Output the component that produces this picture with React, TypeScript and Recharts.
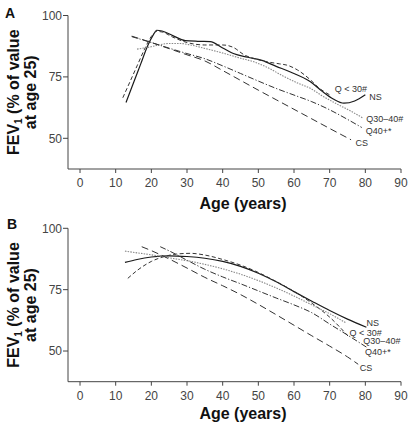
import { LineChart, Line, XAxis, YAxis, LabelList } from 'recharts';

const FONT = '"Liberation Sans", Arial, Helvetica, sans-serif';

const xTicks = [0, 10, 20, 30, 40, 50, 60, 70, 80, 90];
const yTicks = [50, 75, 100];
const seriesNames = ['NS', 'Q < 30#', 'Q30–40#', 'Q40+*', 'CS'];

// Panel A
const nsAgeA = [12.9, 15, 17, 19, 20.5, 21.5, 23, 26, 29.5, 33, 36.5, 40, 43, 47, 51, 55, 59, 64.5, 68, 71, 74, 77, 80];
const nsFevA = [64.6, 72.6, 80.2, 87.8, 92, 94, 93.7, 91.8, 89.8, 89.5, 89.4, 86.8, 84.5, 83, 81.7, 79.3, 77, 73.1, 69, 66, 64.3, 65.2, 67.7];
const q30AgeA = [12, 14, 16, 18, 20, 21.5, 23, 26, 30, 35, 40, 43, 46, 50, 53, 56, 58, 61, 64.6, 67, 70];
const q30FevA = [66.5, 73, 79.5, 86, 91.5, 93.5, 93.3, 91.2, 89, 88, 88, 87, 84, 82, 81, 80.3, 79.8, 77.8, 73.8, 70.5, 67.7];
const q3040AgeA = [16, 18, 20, 22, 25, 28, 31, 35, 40, 45, 49, 53, 57, 61, 65, 68, 72, 76, 79.4];
const q3040FevA = [86.3, 86.8, 87.3, 88, 88.6, 88.6, 88, 86.6, 84.7, 82.6, 81, 78.5, 75.3, 72.5, 70, 67.2, 64, 61, 58.2];
const q40AgeA = [14.5, 20, 25, 30, 35, 40, 45, 50, 55, 60, 65, 70, 75, 79];
const q40FevA = [91.4, 89, 86.7, 84.5, 82.4, 79.5, 76.4, 73.3, 70.3, 67.6, 64.9, 61.6, 57.7, 54.4];
const csAgeA = [14.5, 20, 25, 30, 35, 40, 45, 50, 55, 60, 65, 70, 76];
const csFevA = [91.6, 89, 86.5, 84, 81.5, 77.6, 73.6, 69.6, 65.7, 61.8, 57.9, 54, 49.4];

// Panel B
const nsAgeB = [12.6, 16, 20, 25, 30, 35, 40, 45, 50, 55, 60, 65, 70, 75, 80.3];
const nsFevB = [86.1, 87.3, 88.3, 88.8, 88.5, 87.8, 86.5, 84.5, 81.7, 78.2, 74.2, 70.3, 66.5, 63, 59.7];
const q30AgeB = [13.4, 16, 20, 23.4, 27, 31, 35, 40, 45, 50, 55, 60, 65, 70, 75.4];
const q30FevB = [79.6, 82.8, 86.5, 88.4, 89.5, 89.8, 89.1, 87.3, 85, 82, 78.3, 74.3, 69.5, 63.8, 55.7];
const q3040AgeB = [12.6, 16, 20, 23.4, 27, 30, 35, 40, 45, 50, 55, 60, 65, 70, 74.4];
const q3040FevB = [90.7, 90, 89.2, 88.4, 87.5, 86.8, 85.3, 83.5, 81.3, 78.7, 75.7, 72.4, 68.8, 65.2, 61.6];
const q40AgeB = [22.5, 25, 30, 35, 40, 45, 50, 55, 60, 65, 70, 75, 80.3];
const q40FevB = [92.5, 90.8, 87, 83.3, 80.2, 77.4, 74.5, 71.6, 68.8, 65.6, 61, 56.5, 51.6];
const csAgeB = [17.3, 20, 25, 30, 35, 40, 45, 50, 55, 60, 65, 70, 75, 78];
const csFevB = [92.5, 90.9, 87.5, 83.8, 80, 76.6, 73, 69, 64.8, 60.5, 56.2, 52, 47.6, 44.6];

type Pt = { age: number; fev: number };
const zip = (ages: number[], fev: number[]): Pt[] => ages.map((age, i) => ({ age, fev: fev[i] }));

// line styles per series, in seriesNames order
const lineStyles = [
  { stroke: '#1a1a1a', dash: undefined, width: 1.2 },
  { stroke: '#333', dash: '4 2.5', width: 1 },
  { stroke: '#888', dash: '1.5 1.2', width: 1.1 },
  { stroke: '#333', dash: '6 2 1.2 2', width: 1 },
  { stroke: '#333', dash: '7 4', width: 1 },
];

const panelA = {
  letter: 'A',
  top: 15.5,
  xAxisHeight: 45,
  titleBaseline: 208.5,
  letterBaseline: 18,
  letterX: 5,
  series: [zip(nsAgeA, nsFevA), zip(q30AgeA, q30FevA), zip(q3040AgeA, q3040FevA), zip(q40AgeA, q40FevA), zip(csAgeA, csFevA)],
  labelOffsets: [[4, 2], [5, -6], [3, 1], [4, 3], [4.5, 3]],
};

const panelB = {
  letter: 'B',
  top: 14.3,
  xAxisHeight: 46.3,
  titleBaseline: 204.5,
  letterBaseline: 15,
  letterX: 7,
  series: [zip(nsAgeB, nsFevB), zip(q30AgeB, q30FevB), zip(q3040AgeB, q3040FevB), zip(q40AgeB, q40FevB), zip(csAgeB, csFevB)],
  labelOffsets: [[0, -4.5], [0.5, -4.5], [18, 18.5], [-1.5, 5], [1.5, 3.5]],
};

const W = 412;
const H = 214;
const AXIS_W = 68;

function YTitle({ letter, mid, letterX, letterBaseline }: { letter: string; mid: number; letterX: number; letterBaseline: number }) {
  return (
    <g fontFamily={FONT} fontWeight="bold" fill="#111">
      <text x={letterX} y={letterBaseline} fontSize={14}>{letter}</text>
      <text x={18.5} y={mid} fontSize={16} textAnchor="middle" transform={`rotate(-90, 18.5, ${mid})`}>
        FEV<tspan fontSize={10} dy={3}>1</tspan>
        <tspan dy={-3}> (% of value</tspan>
      </text>
      <text x={36} y={mid} fontSize={16} textAnchor="middle" transform={`rotate(-90, 36, ${mid})`}>
        at age 25)
      </text>
    </g>
  );
}

function XTitle({ baseline }: { baseline: number }) {
  return (
    <text x={243} y={baseline} fontFamily={FONT} fontWeight="bold" fontSize={16} fill="#111" textAnchor="middle">
      Age (years)
    </text>
  );
}

function Panel({ p }: { p: typeof panelA }) {
  const bottom = H - p.xAxisHeight;
  const mid = (p.top + bottom) / 2;
  return (
    <LineChart width={W} height={H} margin={{ top: p.top, right: 11, bottom: 0, left: 0 }}>
      <XAxis
        type="number"
        dataKey="age"
        domain={[-3.37, 90]}
        ticks={xTicks}
        allowDataOverflow
        height={p.xAxisHeight}
        tickSize={4}
        tickMargin={5.5}
        axisLine={{ stroke: '#444' }}
        tickLine={{ stroke: '#444' }}
        tick={{ fill: '#444', fontSize: 12, fontFamily: FONT }}
        label={{ content: () => <XTitle baseline={p.titleBaseline} /> }}
      />
      <YAxis
        type="number"
        domain={[37.5, 100]}
        ticks={yTicks}
        allowDataOverflow
        width={AXIS_W}
        tickSize={5}
        tickMargin={1}
        axisLine={{ stroke: '#444' }}
        tickLine={{ stroke: '#444' }}
        tick={{ fill: '#444', fontSize: 12, fontFamily: FONT }}
        label={{
          content: () => (
            <YTitle letter={p.letter} mid={mid} letterX={p.letterX} letterBaseline={p.letterBaseline} />
          ),
        }}
      />
      {p.series.map((data, i) => {
        const s = lineStyles[i];
        const [dx, dy] = p.labelOffsets[i];
        const last = data.length - 1;
        return (
          <Line
            key={seriesNames[i]}
            data={data}
            dataKey="fev"
            type="monotone"
            stroke={s.stroke}
            strokeWidth={s.width}
            strokeDasharray={s.dash}
            dot={false}
            activeDot={false}
            isAnimationActive={false}
          >
            <LabelList
              dataKey="fev"
              content={(props: any) =>
                props.index === last ? (
                  <text
                    x={Number(props.x) + dx}
                    y={Number(props.y) + dy + 3.2}
                    fontFamily={FONT}
                    fontSize={9}
                    fill="#333"
                  >
                    {seriesNames[i]}
                  </text>
                ) : null
              }
            />
          </Line>
        );
      })}
    </LineChart>
  );
}

export default function App() {
  return (
    <div style={{ position: 'absolute', left: 0, top: 0, width: W, height: 428, background: '#fff' }}>
      <Panel p={panelA} />
      <Panel p={panelB} />
    </div>
  );
}
